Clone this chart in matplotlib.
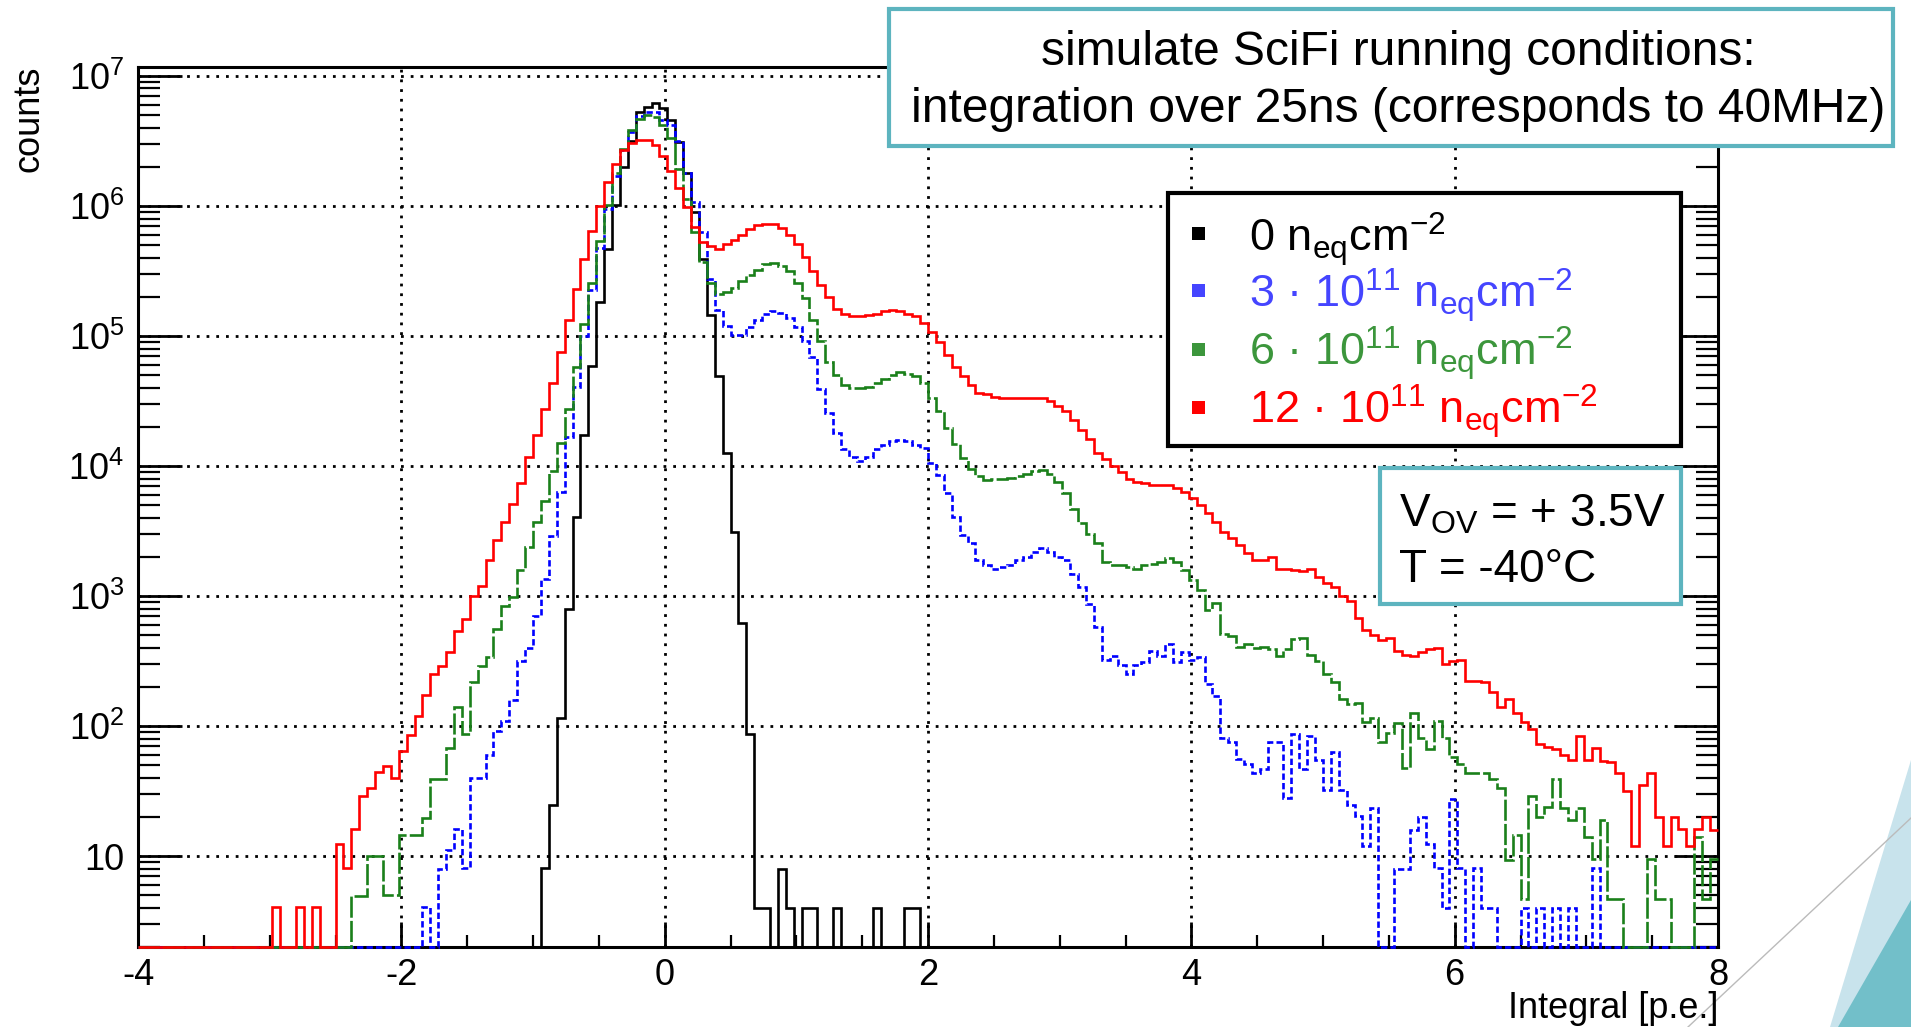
import numpy as np
import matplotlib
matplotlib.use('Agg')
import matplotlib.pyplot as plt
from matplotlib.patches import Rectangle, Polygon
from matplotlib.lines import Line2D
from matplotlib.ticker import LogLocator, NullFormatter, MultipleLocator

plt.rcParams['font.family'] = ['Liberation Sans', 'DejaVu Sans']
plt.rcParams['axes.unicode_minus'] = False
plt.rcParams['mathtext.default'] = 'regular'

# 200 bins from -4 to 8 p.e.
x_lo, x_hi, n_bins = -4.0, 8.0, 200
edges = np.linspace(x_lo, x_hi, n_bins + 1)

# log10(counts) per bin, None = empty bin
black_log = [None] * 51 + [
    0.91, 1.39, 2.06, 2.90, 3.61, 4.24, 4.77, 5.26, 5.67,                # 51-59
    6.01, 6.30, 6.50, 6.72, 6.76, 6.79, 6.75, 6.66, 6.49, 6.25,          # 60-69
    5.95, 5.59, 5.16, 4.69, 4.10, 3.49, 2.79, 1.94, 0.60, 0.60,          # 70-79
    None, 0.90, 0.60, None, 0.60, 0.60, None, None, 0.60, None,          # 80-89
    None, None, None, 0.60, None, None, None, 0.60, 0.60,                # 90-98
] + [None] * 101

red_log = [None] * 17 + [0.61, None, None, 0.61, None, 0.61, None, None] + [
    1.09, 0.91, 1.21, 1.46, 1.52,                                        # 25-29
    1.65, 1.69, 1.60, 1.81, 1.93, 2.08, 2.24, 2.40, 2.46, 2.57,          # 30-39
    2.73, 2.82, 3.00, 3.08, 3.28, 3.43, 3.57, 3.71, 3.87, 4.07,
    4.24, 4.44, 4.64, 4.88, 5.12, 5.36, 5.59, 5.81, 6.00, 6.18,
    6.32, 6.43, 6.48, 6.51, 6.51, 6.47, 6.38, 6.27, 6.14, 5.99,
    5.84, 5.72, 5.69, 5.67, 5.71, 5.74, 5.78, 5.82, 5.85, 5.86,
    5.86, 5.83, 5.78, 5.71, 5.61, 5.50, 5.39, 5.30, 5.21, 5.17,
    5.15, 5.15, 5.16, 5.17, 5.19, 5.20, 5.19, 5.17, 5.15, 5.10,
    5.03, 4.95, 4.85, 4.76, 4.69, 4.62, 4.56, 4.55, 4.53, 4.52,          # 100-109
    4.52, 4.52, 4.52, 4.52, 4.52, 4.50, 4.46, 4.42, 4.35, 4.28,
    4.21, 4.10, 4.05, 4.00, 3.95, 3.90, 3.88, 3.87, 3.85, 3.85,
    3.85, 3.83, 3.80, 3.75, 3.70, 3.64, 3.57, 3.49, 3.45, 3.39,
    3.33, 3.28, 3.28, 3.30, 3.21, 3.21, 3.20, 3.19, 3.21, 3.15,
    3.10, 3.07, 3.00, 2.96, 2.83, 2.74, 2.70, 2.66, 2.68, 2.58,
    2.55, 2.54, 2.57, 2.59, 2.60, 2.48, 2.50, 2.51, 2.35, 2.35,          # 160-169
    2.34, 2.26, 2.15, 2.21, 2.10, 2.03, 1.98, 1.86, 1.84, 1.82,
    1.78, 1.74, 1.92, 1.74, 1.83, 1.73, 1.72, 1.64, 1.50, 1.08,
    1.55, 1.64, 1.30, 1.08, 1.30, 1.21, 1.08, 1.21, 1.30, 1.20,
]

green_log = [None] * 27 + [
    0.69, 0.69, 1.00,                                                    # 27-29
    1.00, 0.70, 0.70, 1.16, 1.16, 1.16, 1.29, 1.59, 1.59, 1.83,          # 30-39
    2.15, 1.94, 2.34, 2.46, 2.53, 2.75, 2.92, 2.99, 3.20, 3.38,
    3.57, 3.73, 3.96, 4.18, 4.44, 4.76, 5.09, 5.41, 5.73, 6.01,
    6.25, 6.44, 6.58, 6.67, 6.70, 6.68, 6.62, 6.52, 6.28, 6.05,
    5.80, 5.57, 5.41, 5.32, 5.34, 5.37, 5.42, 5.47, 5.51, 5.55,
    5.56, 5.54, 5.50, 5.41, 5.29, 5.12, 4.96, 4.80, 4.70, 4.62,
    4.60, 4.60, 4.61, 4.64, 4.67, 4.70, 4.72, 4.71, 4.69, 4.64,
    4.52, 4.42, 4.29, 4.17, 4.06, 3.98, 3.92, 3.89, 3.90, 3.90,          # 100-109
    3.91, 3.92, 3.94, 3.96, 3.97, 3.94, 3.88, 3.79, 3.67, 3.56,
    3.48, 3.41, 3.26, 3.24, 3.24, 3.22, 3.21, 3.24, 3.25, 3.26,
    3.29, 3.26, 3.20, 3.12, 3.05, 2.89, 2.95, 2.71, 2.69, 2.61,
    2.63, 2.60, 2.61, 2.59, 2.54, 2.59, 2.67, 2.68, 2.55, 2.50,
    2.40, 2.34, 2.21, 2.17, 2.18, 2.03, 2.06, 1.88, 1.95, 2.02,
    1.68, 2.10, 1.91, 1.82, 2.04, 1.91, 1.76, 1.71, 1.64, 1.64,          # 160-169
    1.64, 1.59, 1.52, 0.97, 1.16, 0.67, 1.46, 1.30, 1.38, 1.59,
    1.37, 1.28, 1.37, 1.15, 0.98, 1.28, 0.67, 0.67, None, None,
    None, 0.98, 0.67, 0.67, None, None, None, 1.15, 0.67, 0.98,
]

blue_log = [None] * 36 + [
    0.61, None, 0.90, 1.05,                                              # 36-39
    1.21, 0.91, 1.60, 1.60, 1.78, 1.96, 2.04, 2.20, 2.50, 2.60,          # 40-49
    2.85, 3.13, 3.46, 3.80, 4.22, 4.61, 5.00, 5.35, 5.68, 5.98,
    6.23, 6.43, 6.57, 6.69, 6.72, 6.72, 6.66, 6.62, 6.50, 6.25,
    6.03, 5.80, 5.44, 5.20, 5.08, 5.01, 5.01, 5.07, 5.12, 5.17,
    5.19, 5.18, 5.14, 5.07, 4.96, 4.84, 4.59, 4.41, 4.25, 4.13,
    4.07, 4.04, 4.07, 4.13, 4.16, 4.19, 4.20, 4.19, 4.16, 4.14,
    4.02, 3.93, 3.79, 3.61, 3.47, 3.41, 3.28, 3.24, 3.21, 3.22,          # 100-109
    3.24, 3.28, 3.30, 3.34, 3.37, 3.34, 3.30, 3.28, 3.17, 3.07,
    2.94, 2.76, 2.51, 2.54, 2.47, 2.40, 2.47, 2.49, 2.58, 2.54,
    2.63, 2.49, 2.57, 2.51, 2.53, 2.32, 2.23, 1.91, 1.88, 1.75,
    1.71, 1.64, 1.67, 1.88, 1.88, 1.45, 1.94, 1.67, 1.92, 1.74,
    1.51, 1.80, 1.51, 1.39, 1.31, 1.08, 1.37, None, None, 0.90,
    0.90, 1.20, 1.30, 1.09, 0.91, 0.60, 1.44, 0.91, None, 0.91,          # 160-169
    0.60, 0.60, None, None, None, 0.60, None, 0.60, None, 0.60,
    None, 0.60, None, None, 0.91, None, None, None, None, None,
] + [None] * 10

labels = ['0 $n_{eq}cm^{-2}$',
          '3 \u00b7 $10^{11}$ $n_{eq}cm^{-2}$',
          '6 \u00b7 $10^{11}$ $n_{eq}cm^{-2}$',
          '12 \u00b7 $10^{11}$ $n_{eq}cm^{-2}$']
line_colors = ['black', '#0000FF', '#1A801A', '#FF0000']
text_colors = ['black', '#4545FF', '#3C963C', '#FF0000']


def to_counts(logs):
    assert len(logs) == n_bins
    return np.array([0.0 if v is None else 10 ** v for v in logs])


W, H = 1911, 1027


def fx(px):
    return px / W


def fy(py):
    return 1 - py / H


y_lo, y_hi = 2.0, 1.17e7
teal = '#5DB4BF'

fig = plt.figure(figsize=(W / 100, H / 100), dpi=100)
fig.patch.set_facecolor('white')
ax = fig.add_axes([fx(138), fy(947), fx(1718) - fx(138), fy(67) - fy(947)])
ax.set_yscale('log')

# black first, red on top (as in the original drawing order)
styles = ['-', (0, (2.4, 1.2)), (0, (8, 1.2)), '-']
for logs, color, ls in zip([black_log, blue_log, green_log, red_log], line_colors, styles):
    counts = to_counts(logs)
    ax.stairs(np.maximum(counts, y_lo), edges, baseline=None, color=color,
              lw=1.9, ls=ls, zorder=3, clip_on=False)

ax.set_xlim(x_lo, x_hi)
ax.set_ylim(y_lo, y_hi)
ax.set_xticks(np.arange(-4, 9, 2))
ax.xaxis.set_minor_locator(MultipleLocator(0.5))
ax.set_yticks([10 ** k for k in range(1, 8)],
              labels=['10'] + ['$10^{%d}$' % k for k in range(2, 8)])
ax.yaxis.set_minor_locator(LogLocator(base=10, subs=np.arange(2, 10)))
ax.yaxis.set_minor_formatter(NullFormatter())

ax.tick_params(axis='x', which='major', direction='in', length=18, width=2,
               top=False, labelsize=26, pad=8)
ax.tick_params(axis='x', which='minor', direction='in', length=9, width=1.6, top=False)
ax.tick_params(axis='y', which='major', direction='in', length=32, width=2,
               left=True, right=True, labelsize=26, pad=10)
ax.tick_params(axis='y', which='minor', direction='in', length=16, width=1.6,
               left=True, right=True)
for sp in ax.spines.values():
    sp.set_linewidth(2.2)
ax.grid(True, which='major', color='black', ls=(0, (1, 2.5)), lw=2)

fig.text(fx(29), fy(66), 'counts', rotation=90, ha='center', va='top', fontsize=26)
fig.text(fx(1718), fy(1008), 'Integral [p.e.]', ha='right', va='center', fontsize=26)

# slide decoration, bottom right
fig.add_artist(Polygon([(fx(1911), fy(760)), (fx(1830), fy(1027)), (fx(1911), fy(1027))],
                       closed=True, transform=fig.transFigure, fc='#C8E3EC', ec='none', zorder=0))
fig.add_artist(Polygon([(fx(1911), fy(900)), (fx(1838), fy(1027)), (fx(1911), fy(1027))],
                       closed=True, transform=fig.transFigure, fc='#72BFC9', ec='none', zorder=0))
fig.add_artist(Line2D([fx(1688), fx(1911)], [fy(1027), fy(818)], transform=fig.transFigure,
                      color='#BBBBBB', lw=1, zorder=0))

# title box
fig.add_artist(Rectangle((fx(889), fy(146)), fx(1893) - fx(889), fy(9) - fy(146),
                         transform=fig.transFigure, fc='white', ec=teal, lw=3, zorder=5))
fig.text(fx(1398), fy(65), 'simulate SciFi running conditions:', ha='center',
         va='baseline', fontsize=34.5, zorder=6)
fig.text(fx(1398), fy(122), 'integration over 25ns (corresponds to 40MHz)', ha='center',
         va='baseline', fontsize=34.5, zorder=6)

# legend
fig.add_artist(Rectangle((fx(1168), fy(446)), fx(1681) - fx(1168), fy(193) - fy(446),
                         transform=fig.transFigure, fc='white', ec='black', lw=3, zorder=5))
row_base = [251, 307, 365, 423]
row_mark = [233, 290, 349, 407]
for lab, col, yb, ym in zip(labels, text_colors, row_base, row_mark):
    fig.add_artist(Rectangle((fx(1192), fy(ym + 6.5)), fx(13) - fx(0), fy(0) - fy(13),
                             transform=fig.transFigure, fc=col, ec='none', zorder=6))
    fig.text(fx(1249), fy(yb), lab, color=col, ha='left', va='baseline', fontsize=32.5, zorder=6)

# operating conditions box
fig.add_artist(Rectangle((fx(1380), fy(604)), fx(1681) - fx(1380), fy(468) - fy(604),
                         transform=fig.transFigure, fc='white', ec=teal, lw=3, zorder=5))
fig.text(fx(1399), fy(526), '$V_{OV}$ = + 3.5V', ha='left', va='baseline', fontsize=33, zorder=6)
fig.text(fx(1399), fy(582), 'T = -40\u00b0C', ha='left', va='baseline', fontsize=33, zorder=6)

fig.savefig('out.png', dpi=100, facecolor='white')
